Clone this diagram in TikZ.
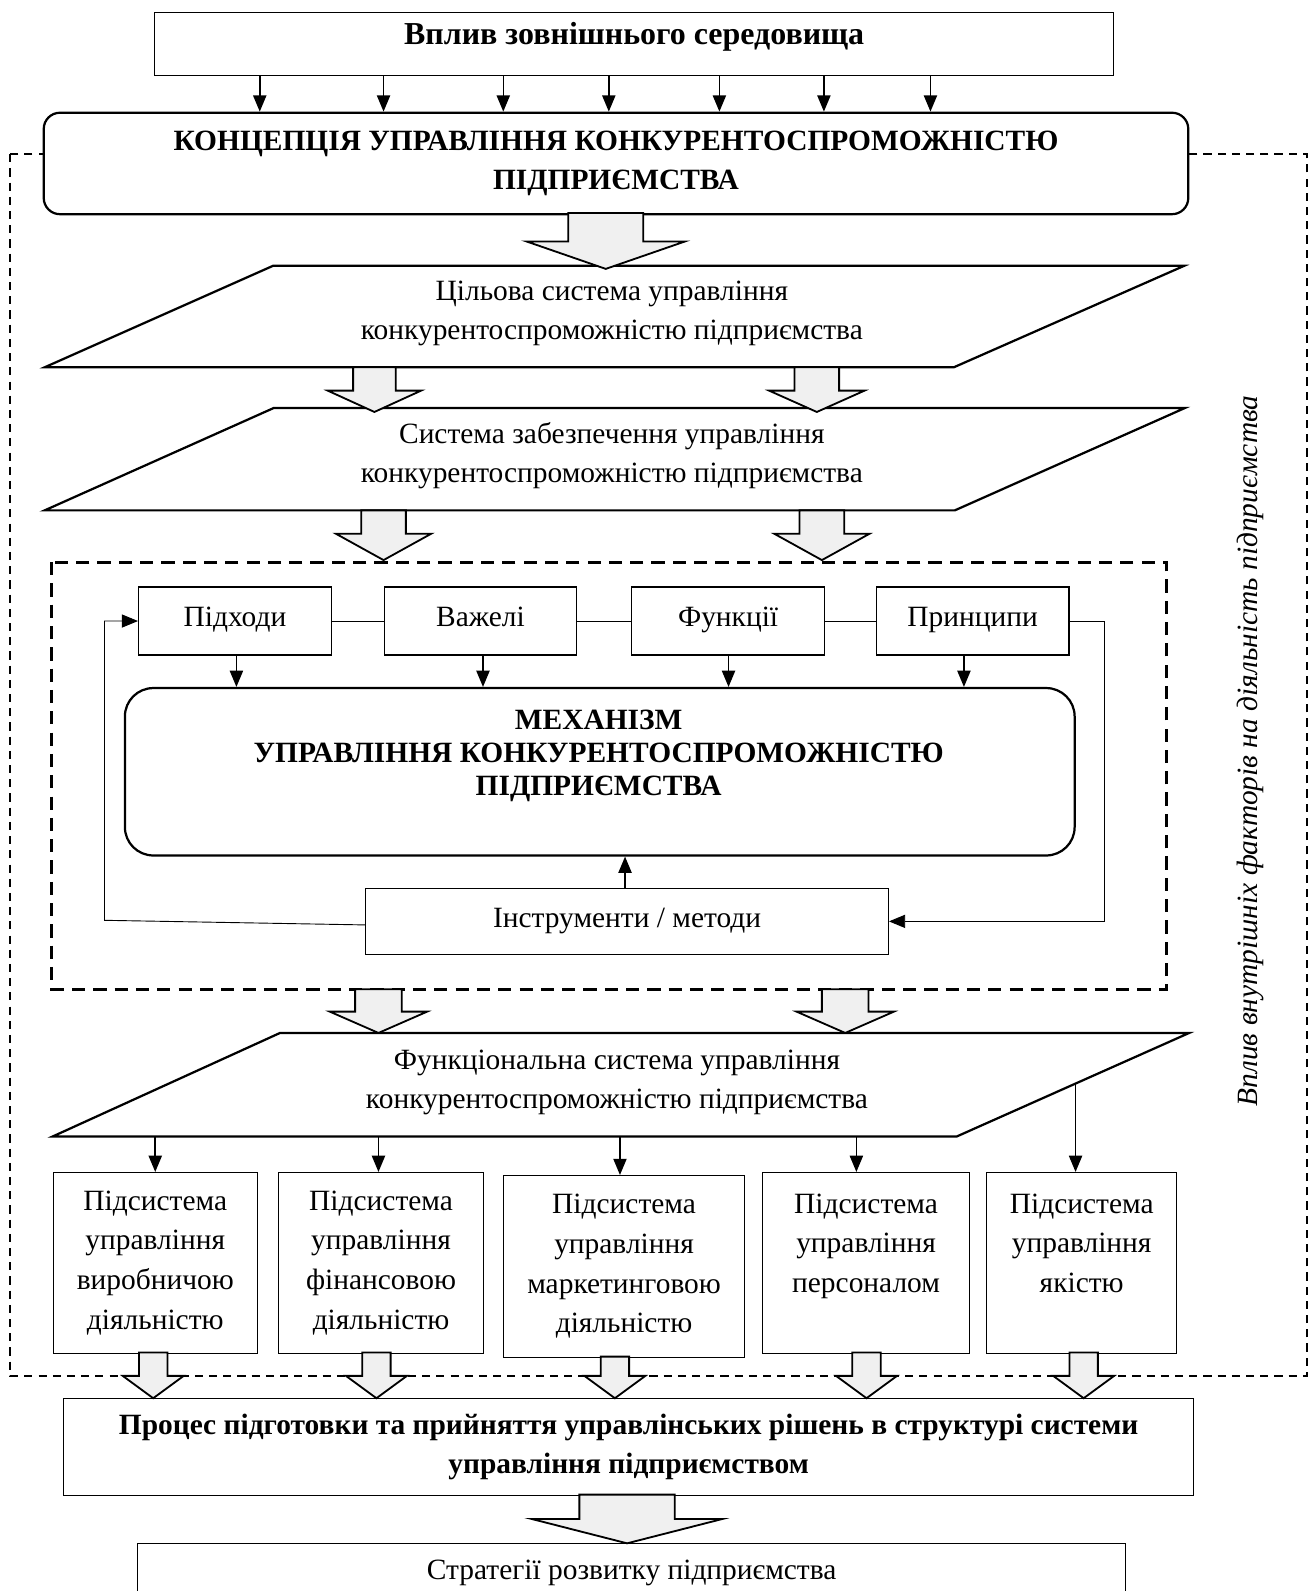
\documentclass[tikz,border=0pt]{standalone}
\usepackage{fontspec}
\setmainfont{Liberation Serif}
\usetikzlibrary{arrows.meta}
\newcommand\BArrow[6]{%
  \draw[blockarrow] ({#1-#5},#2) -- ({#1-#5},#3) -- ({#1-#6},#3) -- (#1,#4) -- ({#1+#6},#3) -- ({#1+#5},#3) -- ({#1+#5},#2) -- cycle;}
\begin{document}
\begin{tikzpicture}[x=1pt, y=-1pt,
  every node/.style={font=\fontsize{29}{38}\selectfont, inner sep=0pt},
  plainbox/.style={draw, line width=1.1pt, fill=white, anchor=north west, align=center},
  smallbox/.style={plainbox, minimum width=190pt, minimum height=67pt, text height=21pt, text depth=11pt},
  roundbox/.style={draw, line width=2.2pt, fill=white, anchor=north west, align=center},
  btext/.style={font=\fontsize{29}{39}\selectfont\bfseries, align=center},
  para/.style={draw, line width=2.2pt, fill=white, line join=miter},
  arr/.style={line width=1.5pt, -{Triangle[length=16pt,width=13pt]}},
  link/.style={line width=0.9pt},
  linkarr/.style={line width=0.9pt, -{Triangle[length=16pt,width=13pt]}},
  blockarrow/.style={draw, line width=1.8pt, fill=black!6, line join=miter},
  outerframe/.style={draw, line width=1.6pt, dash pattern=on 8pt off 6pt},
  innerframe/.style={draw, line width=3pt, dash pattern=on 13pt off 8pt},
]
\useasboundingbox (0,0) rectangle (1295,1568);
\clip (0,0) rectangle (1295,1568);

% outer dashed frame
\draw[outerframe] (10,152) rectangle (1288,1356);

% external environment
\node[plainbox, minimum width=945pt, minimum height=62pt] (env) at (152,12) {};
\node[btext, font=\fontsize{31.5}{39}\selectfont\bfseries] (envtext) at (625,36) {Вплив зовнішнього середовища};

% concept
\node[roundbox, btext, rounded corners=16pt, minimum width=1128pt, minimum height=100pt] (concept) at (42,110)
  {КОНЦЕПЦІЯ УПРАВЛІННЯ КОНКУРЕНТОСПРОМОЖНІСТЮ\\ПІДПРИЄМСТВА};
\foreach \x in {256,378,496,600,709,812,917}
  \draw[arr] (\x,0 |- env.south) -- (\x,0 |- concept.north);

% target system
\draw[para] (269,262) coordinate (p1tl) -- (1167,262) coordinate (p1tr) -- (940,362) coordinate (p1br) -- (44,362) coordinate (p1bl) -- cycle;
\node[align=center] (p1) at (603,309) {Цільова система управління\\конкурентоспроможністю підприємства};
\BArrow{597}{210}{238}{265}{37}{78}

% support system
\draw[para] (270,402) coordinate (p2tl) -- (1168,402) coordinate (p2tr) -- (941,503) coordinate (p2br) -- (44,503) coordinate (p2bl) -- cycle;
\node[align=center] (p2) at (603,449) {Система забезпечення управління\\конкурентоспроможністю підприємства};
\BArrow{369}{362}{385}{406}{21}{46}
\BArrow{805}{362}{385}{406}{22}{47}

% inner frame
\draw[innerframe] (51,554) rectangle (1150,975);
\BArrow{378}{503}{526}{552}{22}{47}
\BArrow{810}{503}{526}{552}{22}{47}

% top row boxes
\node[smallbox] (appr) at (136,578) {Підходи};
\node[smallbox] (lev) at (378,578) {Важелі};
\node[smallbox] (func) at (622,578) {Функції};
\node[smallbox] (princ) at (863,578) {Принципи};
\draw[link] (appr.east) -- (lev.west);
\draw[link] (lev.east) -- (func.west);
\draw[link] (func.east) -- (princ.west);

% mechanism
\node[roundbox, rounded corners=28pt, minimum width=936pt, minimum height=165pt] (mech) at (122,677) {};
\node[btext, font=\fontsize{29}{32.5}\selectfont\bfseries] (mechtext) at (590,745)
  {МЕХАНІЗМ\\УПРАВЛІННЯ КОНКУРЕНТОСПРОМОЖНІСТЮ\\ПІДПРИЄМСТВА};
\draw[arr] (233,0 |- appr.south) -- (233,0 |- mech.north);
\draw[arr] (476,0 |- lev.south) -- (476,0 |- mech.north);
\draw[arr] (718,0 |- func.south) -- (718,0 |- mech.north);
\draw[arr] (950,0 |- princ.south) -- (950,0 |- mech.north);

% instruments
\node[plainbox, minimum width=515pt, minimum height=65pt] (instr) at (360,875) {Інструменти / методи};
\draw[arr] (616,0 |- instr.north) -- (616,0 |- mech.south);
\draw[linkarr] ([yshift=-3.5pt]instr.west) -- (103,907) -- (103,0 |- appr.west) -- (appr.west);
\draw[linkarr] (princ.east) -- (1088,0 |- princ.east) -- (1088,0 |- instr.east) -- (instr.east);

% functional system
\draw[para] (276,1018) coordinate (p3tl) -- (1172,1018) coordinate (p3tr) -- (943,1120) coordinate (p3br) -- (52,1120) coordinate (p3bl) -- cycle;
\node[align=center] (p3) at (608,1067) {Функціональна система управління\\конкурентоспроможністю підприємства};
\BArrow{373}{975}{997}{1018}{23}{48}
\BArrow{833}{975}{997}{1018}{23}{48}
\coordinate (p3edge) at (1060,1068);

% subsystems
\node[plainbox, minimum width=201pt, minimum height=178pt, font=\fontsize{29}{39}\selectfont] (s1) at (52,1155) {Підсистема\\управління\\виробничою\\діяльністю};
\node[plainbox, minimum width=202pt, minimum height=178pt, font=\fontsize{29}{39}\selectfont] (s2) at (274,1155) {Підсистема\\управління\\фінансовою\\діяльністю};
\node[plainbox, minimum width=237pt, minimum height=179pt, font=\fontsize{29}{39}\selectfont] (s3) at (496,1158) {Підсистема\\управління\\маркетинговою\\діяльністю};
\node[plainbox, minimum width=204pt, minimum height=178pt, font=\fontsize{29}{39}\selectfont] (s4) at (751,1155) {Підсистема\\управління\\персоналом\\\mbox{}};
\node[plainbox, minimum width=187pt, minimum height=178pt, font=\fontsize{29}{39}\selectfont] (s5) at (972,1155) {Підсистема\\управління\\якістю\\\mbox{}};
\draw[arr] (153,0 |- p3bl) -- (153,0 |- s1.north);
\draw[arr] (373,0 |- p3bl) -- (373,0 |- s2.north);
\draw[arr] (611,0 |- p3bl) -- (611,0 |- s3.north);
\draw[arr] (844,0 |- p3bl) -- (844,0 |- s4.north);
\draw[arr] (p3edge) -- (p3edge |- s5.north);

% decision process
\node[plainbox, btext, minimum width=1114pt, minimum height=95pt] (proc) at (62,1378)
  {Процес підготовки та прийняття управлінських рішень в структурі системи\\управління підприємством};
\BArrow{151}{1333}{1356}{1378}{14}{30}
\BArrow{371}{1333}{1356}{1378}{14}{30}
\BArrow{606}{1337}{1356}{1378}{14}{30}
\BArrow{854}{1333}{1356}{1378}{14}{30}
\BArrow{1068}{1333}{1356}{1378}{14}{30}

% strategies
\node[plainbox, minimum width=974pt, minimum height=58pt] (strat) at (135,1521) {Стратегії розвитку підприємства};
\BArrow{618}{1473}{1497}{1521}{47}{94}

% internal factors
\node[rotate=90, font=\fontsize{29}{38}\selectfont\itshape] (internal) at (1232,740)
  {Вплив внутрішніх факторів на діяльність підприємства};
\end{tikzpicture}
\end{document}
